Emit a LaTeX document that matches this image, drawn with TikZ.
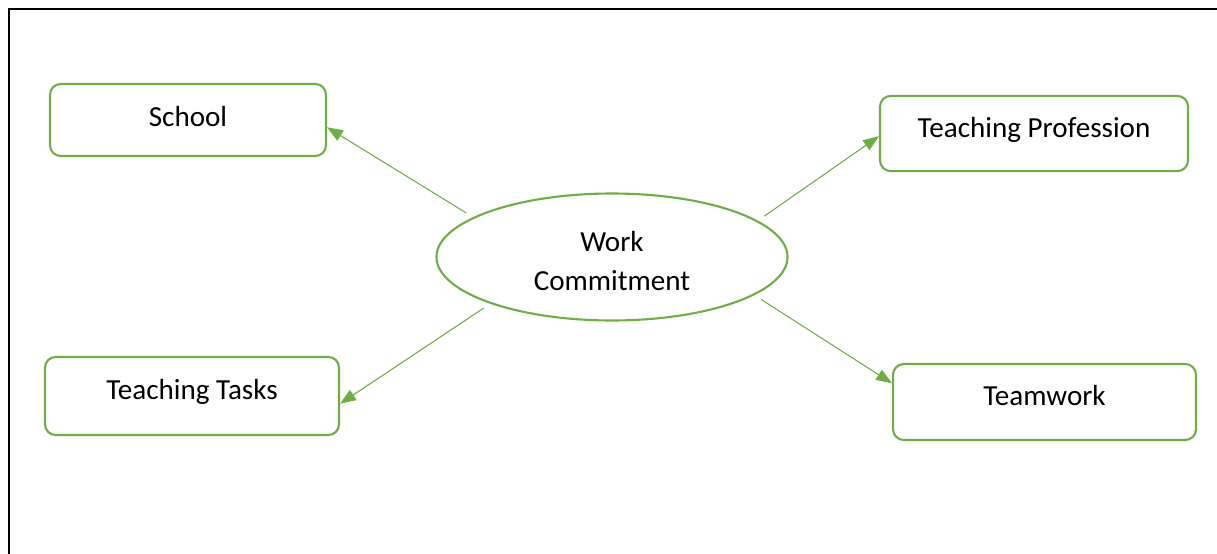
\documentclass[tikz,border=0pt]{standalone}
\usepackage{fontspec}
\setmainfont{Carlito}
\usetikzlibrary{shapes.geometric,arrows.meta}
\definecolor{leaf}{HTML}{70AD47}
\tikzset{
	box/.style={draw=leaf,line width=0.8pt,rounded corners=4pt,inner sep=0pt,align=center,text height=6pt,text depth=3.1pt},
	blob/.style={draw=leaf,line width=0.8pt,ellipse,inner sep=0pt,align=center,minimum width=132.7pt,minimum height=48pt,text height=25pt,text depth=0pt},
	arr/.style={leaf,line width=0.4pt,-{Triangle[length=6pt,width=4.5pt]},shorten <=3pt}
}

\begin{document}
\begin{tikzpicture}[x=0.378pt,y=-0.378pt,font=\fontsize{11}{14.4}\selectfont]
	\useasboundingbox (0,0) rectangle (1217,554);
	\draw[line width=1pt] (9,554) -- (9,9) -- (1217,9);
	
	\node[blob] at (612,257)(wc){Work\\Commitment};
	\node[box,minimum width=104.3pt,minimum height=27.2pt,text depth=0.8pt] at (188,120)(s){School};
	\node[box,minimum width=116.4pt,minimum height=28.4pt] at (1034,133.5)(p){Teaching Profession};
	\node[box,minimum width=111.1pt,minimum height=29.5pt] at (192,396)(t){Teaching Tasks};
	\node[box,minimum width=114.5pt,minimum height=28.7pt] at (1044.5,402)(w){Teamwork};
	
	\path[arr](wc.164)edge(s.-3)(wc.14)edge(p.181)(wc.-159.5)edge(t.-3.5)(wc.-15.6)edge(w.173.6);
\end{tikzpicture}
\end{document}
